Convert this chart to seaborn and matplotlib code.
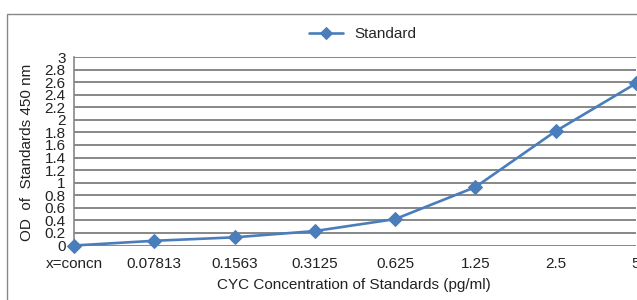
import numpy as np
import pandas as pd
import matplotlib.pyplot as plt
import seaborn as sns
from matplotlib.patches import Rectangle

# ELISA standard curve: OD vs concentration

conc_labels = ["x=concn", "0.07813", "0.1563", "0.3125", "0.625", "1.25", "2.5", "5"]
od_values = [0.0, 0.075, 0.13, 0.23, 0.42, 0.93, 1.82, 2.58]
y_ticks = [0, 0.2, 0.4, 0.6, 0.8, 1, 1.2, 1.4, 1.6, 1.8, 2, 2.2, 2.4, 2.6, 2.8, 3]

df = pd.DataFrame({"pos": np.arange(len(conc_labels)), "od": od_values})

sns.set_style("white")
plt.rcParams["font.family"] = ["Liberation Sans", "DejaVu Sans"]

W, H = 637, 300
fig = plt.figure(figsize=(W / 100, H / 100), dpi=100)

# plot area in pixel units
left, right, top, bottom = 74, 636, 57, 245.5
ax = fig.add_axes([left / W, 1 - bottom / H, (right - left) / W, (bottom - top) / H])

blue = "#4A7EBB"
grid_col = "#878787"
fs = 11

sns.lineplot(
    data=df,
    x="pos",
    y="od",
    marker="D",
    markersize=7.5,
    color=blue,
    linewidth=1.9,
    markeredgecolor=blue,
    label="Standard",
    ax=ax,
    clip_on=False,
    zorder=5,
)

ax.set_xlim(0, len(conc_labels) - 1)
ax.set_ylim(0, 3)
ax.set_xticks(df["pos"])
ax.set_xticklabels(conc_labels, fontsize=fs, color="#222222")
ax.set_yticks(y_ticks)
ax.set_yticklabels([f"{v:g}" for v in y_ticks], fontsize=fs, color="#222222")
ax.tick_params(axis="both", length=0)
ax.tick_params(axis="x", pad=8)
ax.tick_params(axis="y", pad=6)

for v in y_ticks:
    ax.axhline(v, color=grid_col, linewidth=1.4, zorder=1)

for s in ["top", "right", "bottom"]:
    ax.spines[s].set_visible(False)
ax.spines["left"].set_color(grid_col)
ax.spines["left"].set_linewidth(1.2)

ax.set_xlabel("")
ax.set_ylabel("")
ax.get_legend().remove()

fig.text(27 / W, 1 - 152 / H, "OD  of  Standards 450 nm", rotation=90,
         ha="center", va="center", fontsize=fs, color="#222222")
fig.text(354 / W, 1 - 285 / H, "CYC Concentration of Standards (pg/ml)",
         ha="center", va="center", fontsize=fs, color="#222222")

handles, labels = ax.get_legend_handles_labels()
fig.legend(handles, labels, loc="center left", bbox_to_anchor=(309 / W, 1 - 34 / H),
           frameon=False, fontsize=fs, handlelength=2.2, handletextpad=0.8,
           borderpad=0, borderaxespad=0, markerscale=0.8)

# outer chart border
fig.patches.append(Rectangle((7 / W, -0.2), 1.2, 1.2 - 14 / H, transform=fig.transFigure,
                             fill=False, edgecolor=grid_col, linewidth=1.0))

plt.savefig("out.png", dpi=100)
